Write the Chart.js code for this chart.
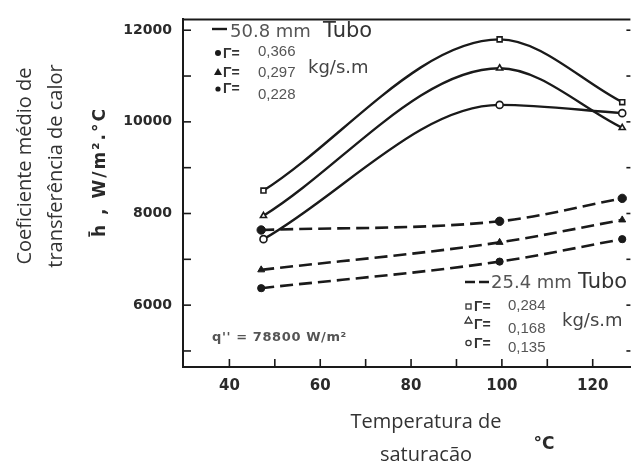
<!DOCTYPE html>
<html><head><meta charset="utf-8">
<script src="https://cdn.jsdelivr.net/npm/chart.js@4/dist/chart.umd.min.js"></script>
<style>html,body{margin:0;padding:0;background:#fff}#wrap{width:636px;height:463px;position:relative}</style>
</head><body><div id="wrap"><canvas id="c" width="636" height="463"></canvas></div>
<script>
// ---- data ----
const tubo50Temps = [47.5, 99.5, 126.5];
const tubo50G0366 = [8500, 11800, 10430];
const tubo50G0297 = [7950, 11170, 9870];
const tubo50G0228 = [7440, 10370, 10190];
const tubo25Temps = [47, 99.5, 126.5];
const tubo25G0284 = [7640, 7830, 8330];
const tubo25G0168 = [6770, 7370, 7860];
const tubo25G0135 = [6370, 6950, 7440];
const xTickValues = [40, 50, 60, 70, 80, 90, 100, 110, 120];
const xTickLabels = [40, 60, 80, 100, 120];
const yTickValues = [5000, 6000, 7000, 8000, 9000, 10000, 11000, 12000];
const yTickLabels = [6000, 8000, 10000, 12000];

const INK = '#1a1a1a';
function pts(xs, ys){ return xs.map((x,i)=>({x:x, y:ys[i]})); }
function solid(label, xs, ys, style){
  return {label, data: pts(xs, ys), showLine:true, borderColor:INK, borderWidth:2.4,
    cubicInterpolationMode:'monotone', pointStyle:style, pointRadius:3.5,
    pointBackgroundColor:'#fff', pointBorderColor:INK, pointBorderWidth:1.6};
}
function dashed(label, xs, ys, style, r){
  return {label, data: pts(xs, ys), showLine:true, borderColor:INK, borderWidth:2.6,
    borderDash:[13,6], cubicInterpolationMode:'monotone', pointStyle:style, pointRadius:r,
    pointBackgroundColor:INK, pointBorderColor:INK, pointBorderWidth:1};
}

const decor = {
  id:'decor',
  afterDraw(chart){
    const {ctx, chartArea:a, scales:{x, y}} = chart;
    ctx.save();
    ctx.strokeStyle = INK; ctx.lineCap='butt';
    // top frame
    ctx.lineWidth = 2;
    ctx.beginPath(); ctx.moveTo(a.left, a.top); ctx.lineTo(a.right, a.top); ctx.stroke();
    // inner ticks
    ctx.lineWidth = 1.6;
    xTickValues.forEach(v=>{ const px=x.getPixelForValue(v);
      ctx.beginPath(); ctx.moveTo(px, a.bottom); ctx.lineTo(px, a.bottom-8); ctx.stroke(); });
    yTickValues.forEach(v=>{ const py=y.getPixelForValue(v);
      ctx.beginPath(); ctx.moveTo(a.left, py); ctx.lineTo(a.left+8, py); ctx.stroke();
      ctx.beginPath(); ctx.moveTo(a.right, py); ctx.lineTo(a.right-4, py); ctx.stroke(); });

    // axis titles
    ctx.fillStyle = '#333';
    ctx.textAlign='center'; ctx.textBaseline='middle';
    ctx.save(); ctx.translate(25, 166); ctx.rotate(-Math.PI/2);
    ctx.font = '20px "Open Sans"'; ctx.fillText('Coeficiente médio de', 0, 0); ctx.restore();
    ctx.save(); ctx.translate(56, 166); ctx.rotate(-Math.PI/2);
    ctx.font = '20px "Open Sans"'; ctx.fillText('transferência de calor', 0, 0); ctx.restore();
    ctx.save(); ctx.translate(101, 172); ctx.rotate(-Math.PI/2);
    ctx.font = 'bold 17px "DejaVu Sans"'; ctx.fillStyle='#2a2a2a';
    try{ ctx.letterSpacing='2px'; }catch(e){}
    ctx.fillText('h\u0304 , W/m\u00b2.\u00b0C', 0, 0); ctx.restore();

    ctx.textBaseline='alphabetic';
    ctx.font = '20px "Open Sans"'; ctx.fillStyle='#333';
    ctx.fillText('Temperatura de', 426, 428);
    ctx.fillText('saturacão', 426, 461);
    ctx.font = 'bold 17px "DejaVu Sans"'; ctx.fillStyle='#2a2a2a';
    ctx.fillText('\u00b0C', 544, 449);

    // legend 50.8 mm (solid)
    ctx.textAlign='left';
    ctx.lineWidth=2.4;
    ctx.beginPath(); ctx.moveTo(212, 29); ctx.lineTo(227, 29); ctx.stroke();
    ctx.font = '18px "DejaVu Sans"'; ctx.fillStyle='#555';
    ctx.fillText('50.8 mm', 230, 37);
    ctx.font = '21px "DejaVu Sans"'; ctx.fillStyle='#333';
    ctx.fillText('Tubo', 323, 37);
    ctx.fillStyle=INK;
    ctx.beginPath(); ctx.arc(218, 53, 3, 0, Math.PI*2); ctx.fill();
    ctx.beginPath(); ctx.moveTo(218, 68); ctx.lineTo(222, 75); ctx.lineTo(214, 75); ctx.closePath(); ctx.fill();
    ctx.beginPath(); ctx.arc(218, 89, 2.6, 0, Math.PI*2); ctx.fill();
    ctx.font = 'bold 14px "Liberation Sans"'; ctx.fillStyle='#333';
    ctx.fillText('\u0393=', 223, 58);
    ctx.fillText('\u0393=', 223, 77);
    ctx.fillText('\u0393=', 223, 93);
    ctx.font = '15px "Liberation Sans"'; ctx.fillStyle='#555';
    ctx.fillText('0,366', 258, 56);
    ctx.fillText('0,297', 258, 77);
    ctx.fillText('0,228', 258, 99);
    ctx.font = '18px "DejaVu Sans"'; ctx.fillStyle='#444';
    ctx.fillText('kg/s.m', 308, 73);

    // legend 25.4 mm (dashed)
    ctx.strokeStyle=INK; ctx.lineWidth=2.4;
    ctx.beginPath(); ctx.moveTo(465, 282); ctx.lineTo(475, 282); ctx.moveTo(479, 282); ctx.lineTo(489, 282); ctx.stroke();
    ctx.font = '18px "DejaVu Sans"'; ctx.fillStyle='#555';
    ctx.fillText('25.4 mm', 491, 288);
    ctx.font = '21px "DejaVu Sans"'; ctx.fillStyle='#333';
    ctx.fillText('Tubo', 578, 288);
    ctx.lineWidth=1.3; ctx.strokeStyle='#333';
    ctx.strokeRect(466, 304, 5, 5);
    ctx.beginPath(); ctx.moveTo(468.5, 317); ctx.lineTo(472, 323); ctx.lineTo(465, 323); ctx.closePath(); ctx.stroke();
    ctx.beginPath(); ctx.arc(468.5, 343, 2.6, 0, Math.PI*2); ctx.stroke();
    ctx.font = 'bold 14px "Liberation Sans"'; ctx.fillStyle='#333';
    ctx.fillText('\u0393=', 474, 311);
    ctx.fillText('\u0393=', 474, 329);
    ctx.fillText('\u0393=', 474, 348);
    ctx.font = '15px "Liberation Sans"'; ctx.fillStyle='#555';
    ctx.fillText('0,284', 508, 310);
    ctx.fillText('0,168', 508, 333);
    ctx.fillText('0,135', 508, 352);
    ctx.font = '18px "DejaVu Sans"'; ctx.fillStyle='#444';
    ctx.fillText('kg/s.m', 562, 326);

    // heat flux note
    ctx.font = 'bold 13px "DejaVu Sans"'; ctx.fillStyle='#555';
    try{ ctx.letterSpacing='0.6px'; }catch(e){}
    ctx.fillText("q'' = 78800 W/m\u00b2", 212, 341);
    ctx.restore();
  }
};

new Chart(document.getElementById('c'), {
  type:'scatter',
  data:{ datasets:[
    solid('50.8 mm, \u0393=0,366', tubo50Temps, tubo50G0366, 'rect'),
    solid('50.8 mm, \u0393=0,297', tubo50Temps, tubo50G0297, 'triangle'),
    solid('50.8 mm, \u0393=0,228', tubo50Temps, tubo50G0228, 'circle'),
    dashed('25.4 mm, \u0393=0,284', tubo25Temps, tubo25G0284, 'circle', 4.2),
    dashed('25.4 mm, \u0393=0,168', tubo25Temps, tubo25G0168, 'triangle', 4),
    dashed('25.4 mm, \u0393=0,135', tubo25Temps, tubo25G0135, 'circle', 3.6)
  ]},
  options:{
    responsive:false, animation:false, devicePixelRatio:1,
    layout:{ padding:{ top:13, left:0, right:0, bottom:0 } },
    plugins:{ legend:{display:false}, tooltip:{enabled:false} },
    scales:{
      x:{ type:'linear', min:29.78, max:128.3,
        afterBuildTicks:(s)=>{ s.ticks = xTickLabels.map(v=>({value:v})); },
        afterFit:(s)=>{ s.height = 96; },
        grid:{ display:false, drawTicks:false },
        border:{ display:true, color:INK, width:2 },
        ticks:{ padding:10, maxRotation:0, autoSkip:false, color:'#2a2a2a',
          callback:(v)=>String(v),
          font:{ family:'"DejaVu Sans"', weight:'bold', size:15 } } },
      y:{ type:'linear', min:4650, max:12236,
        afterBuildTicks:(s)=>{ s.ticks = yTickLabels.map(v=>({value:v})); },
        afterFit:(s)=>{ s.width = 183; },
        grid:{ display:false, drawTicks:false },
        border:{ display:true, color:INK, width:2 },
        ticks:{ padding:11, autoSkip:false, color:'#2a2a2a',
          callback:(v)=>String(v),
          font:{ family:'"DejaVu Sans"', weight:'bold', size:14 } } }
    }
  },
  plugins:[decor]
});
</script></body></html>
